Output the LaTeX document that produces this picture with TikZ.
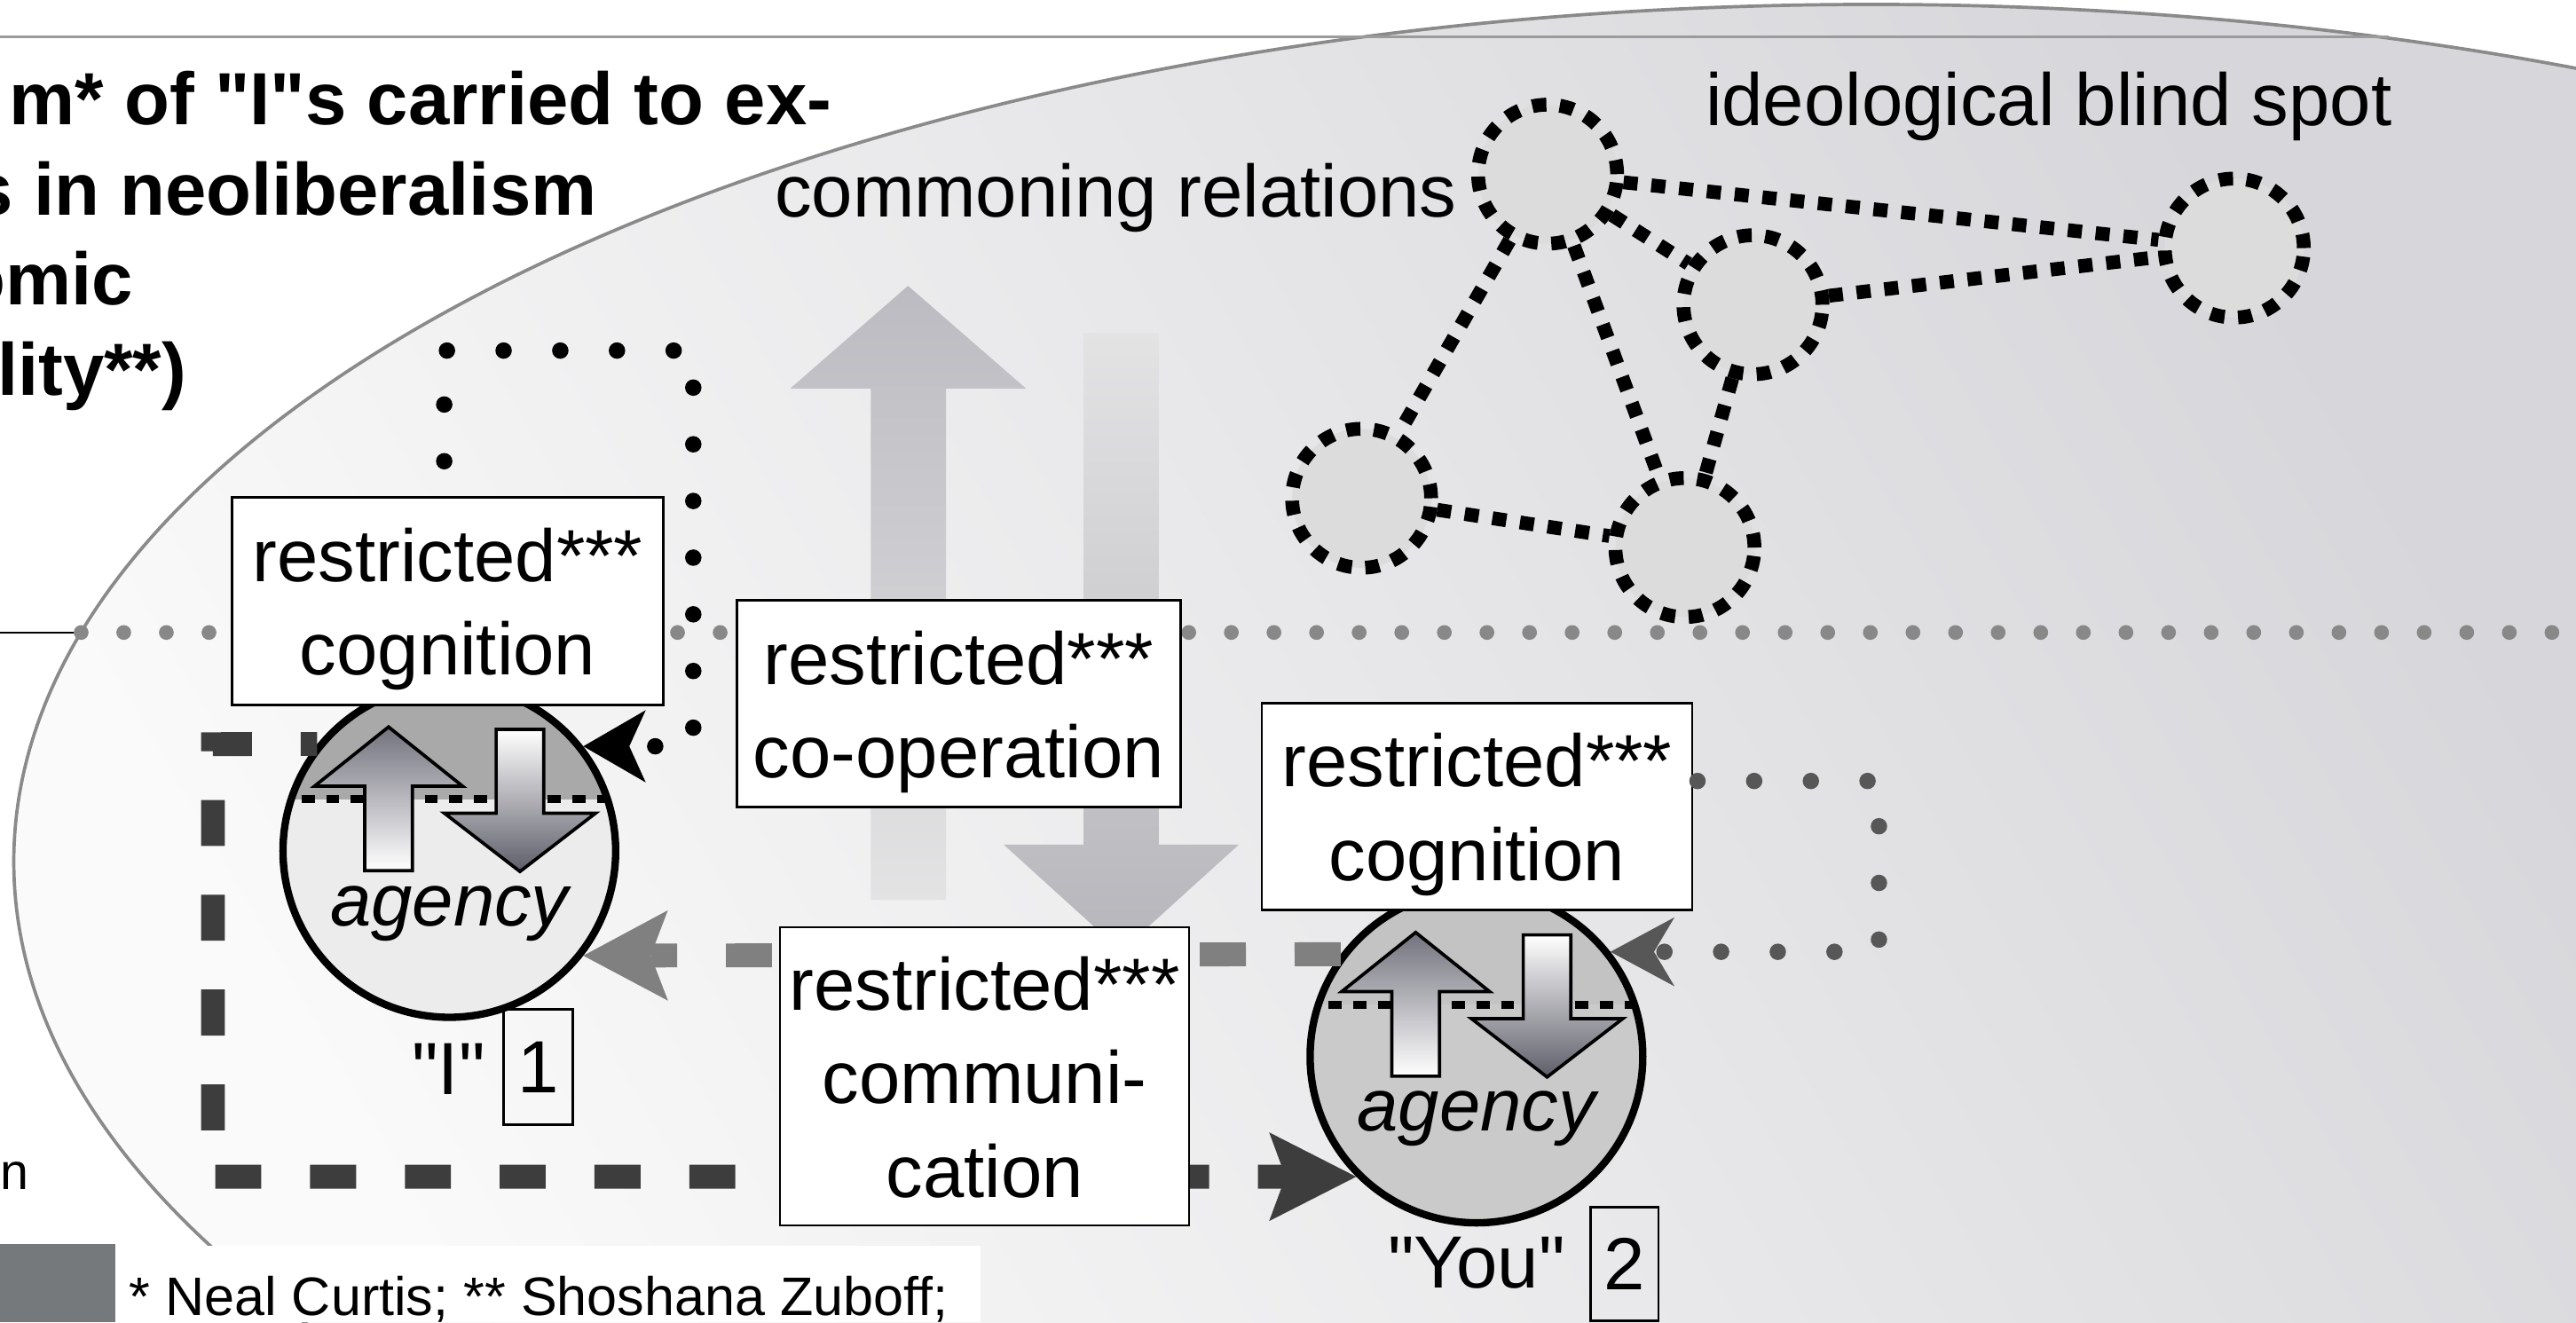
\documentclass[tikz,border=0pt]{standalone}
\usepackage{fontspec}
\setmainfont{Liberation Sans}[Ligatures=TeXOff]
\usetikzlibrary{arrows.meta,calc}

\definecolor{bglight}{HTML}{FAFAFA}
\definecolor{bgdark}{HTML}{D7D7DB}
\definecolor{rimgray}{HTML}{8A8A8A}
\definecolor{rulegray}{HTML}{9B9B9B}
\definecolor{dotgray}{HTML}{888888}
\definecolor{loopgray}{HTML}{575757}
\definecolor{dashdark}{HTML}{3D3D3D}
\definecolor{dashmid}{HTML}{808080}
\definecolor{flowdark}{HTML}{BBBBC1}
\definecolor{flowpale}{HTML}{E3E3E4}
\definecolor{agentdark}{HTML}{A9A9A9}
\definecolor{agentpale}{HTML}{ECECEC}
\definecolor{agentmidA}{HTML}{C3C3C3}
\definecolor{agentmidB}{HTML}{CACACA}
\definecolor{arrowdark}{HTML}{72727E}
\definecolor{arrowdarker}{HTML}{5E5E6A}
\definecolor{netfill}{HTML}{DCDCDD}
\definecolor{footgray}{HTML}{76797B}

% struts fixing the first ascent and last descent of boxed texts
\newcommand{\firstline}{\rule{0pt}{45pt}}
\newcommand{\lastline}{\rule[-12pt]{0pt}{12pt}}

\tikzset{
  txt/.style={inner sep=0pt, font=\fontsize{45}{57}\selectfont},
  textbox/.style={draw=black, fill=white, line width=1.5pt, inner sep=0pt,
    align=center, font=\fontsize{45}{57}\selectfont},
  numbox/.style={draw=black, line width=1.5pt, inner sep=0pt,
    font=\fontsize{45}{57}\selectfont},
  headline/.style={inner sep=0pt, anchor=base east,
    font=\fontsize{45}{55}\selectfont\bfseries},
  agentring/.style={circle, draw=black, line width=4.5pt,
    minimum size=202.5pt, inner sep=0pt},
  agencytext/.style={inner sep=0pt, anchor=base,
    font=\fontsize{45}{57}\selectfont\itshape},
  netnode/.style={circle, draw=black, fill=netfill, line width=8.4pt,
    minimum size=84.6pt, inner sep=0pt, dash pattern=on 8.6pt off 8.2pt},
  netedge/.style={draw=black, line width=8.4pt, dash pattern=on 8.6pt off 8.4pt},
  greydots/.style={dotgray, line width=9pt, line cap=round,
    dash pattern=on 0pt off 25.93pt},
  loopdots/.style={line width=10pt, line cap=round,
    dash pattern=on 0pt off 34.5pt},
  heavydash/.style={line width=14.5pt, dash pattern=on 28pt off 29.7pt},
  smallup/.style={draw=black, line width=2pt, line join=miter,
    top color=arrowdark, bottom color=white},
  smalldown/.style={draw=black, line width=2pt, line join=miter,
    top color=white, bottom color=arrowdarker},
  tipdot/.tip={Stealth[length=38pt, width=44pt, inset=10pt, line width=0pt]},
  tipgray/.tip={Stealth[length=39pt, width=42pt, inset=12.5pt, line width=0pt]},
  tipheavy/.tip={Stealth[length=53pt, width=54pt, inset=10pt, line width=0pt]},
  tipmid/.tip={Stealth[length=51.5pt, width=55pt, inset=10.5pt, line width=0pt]},
}

% one agent: two-tone disc, the two exchange arrows and the ring
\newcommand{\agentdisc}[4]{%
  \fill[#4] (#2) circle[radius=101.25];
  \begin{scope}
    \clip (#2) circle[radius=101.25];
    \fill[#3] ($(#2)+(-110,-110)$) rectangle ($(#2)+(110,-31.5)$);
    \draw[black, line width=5pt, dash pattern=on 8pt off 7pt]
      ($(#2)+(-105,-31.5)$) -- ($(#2)+(105,-31.5)$);
  \end{scope}
  \begin{scope}[shift={(#2)}]
    \shadedraw[smallup] (-51.5,12) -- (-51.5,-39.5) -- (-82,-39.5) -- (-37,-75.5)
      -- (8,-39.5) -- (-22.5,-39.5) -- (-22.5,12) -- cycle;
    \shadedraw[smalldown] (28.5,-74) -- (57.5,-74) -- (57.5,-23) -- (89,-23)
      -- (43,12.5) -- (-3,-23) -- (28.5,-23) -- cycle;
  \end{scope}
  \node[agentring] (#1) at (#2) {};
  \node[agencytext] (#1-agency) at ($(#2)+(0,45.5)$) {agency};
}

\begin{document}
\begin{tikzpicture}[x=1pt, y=-1pt]
\useasboundingbox (0,0) rectangle (1568,805);
\clip (0,0) rectangle (1568,805);
\fill[white] (0,0) rectangle (1568,805);

% the large shaded oval
\coordinate (ovc) at (1139,524.5);
\begin{scope}
  \clip (ovc) ellipse[x radius=1130.6, y radius=521.8];
  \shade[top color=bgdark, bottom color=bglight, shading angle=-60]
    (0,0) rectangle (1568,805);
\end{scope}
\draw[rimgray, line width=2pt] (ovc) ellipse[x radius=1130.6, y radius=521.8];

% top rule
\coordinate (ruleL) at (0,22.5);
\coordinate (ruleR) at (1454,22.5);
\draw[rulegray, line width=1.5pt] (ruleL) -- (ruleR);

% horizon line
\coordinate (hzA) at (0,385);
\coordinate (hzB) at (49.4,385);
\coordinate (hzC) at (1580,385);
\draw[black, line width=1pt] (hzA) -- (hzB);
\draw[greydots] (hzB) -- (hzC);

% broad up and down flows
\shade[top color=flowdark, bottom color=flowpale]
  (530,547.7) -- (530,236.5) -- (481,236.5) -- (552.7,174) -- (624.5,236.5)
  -- (575.8,236.5) -- (575.8,547.7) -- cycle;
\shade[top color=flowpale, bottom color=flowdark!97!black]
  (659.5,202.8) -- (705.4,202.8) -- (705.4,514.2) -- (754,514.2) -- (682.5,579)
  -- (611,514.2) -- (659.5,514.2) -- cycle;

% network of commoning relations
\node[netnode] (nA) at (942,106) {};
\node[netnode] (nB) at (1067,185.5) {};
\node[netnode] (nC) at (1360,151) {};
\node[netnode] (nD) at (828.8,303.3) {};
\node[netnode] (nE) at (1025.6,333.3) {};
\draw[netedge] (nA) -- (nC);
\draw[netedge] (nB) -- (nC);
\draw[netedge] (nA) -- (nB);
\draw[netedge] (nA) -- (nD);
\draw[netedge] (nA) -- (nE);
\draw[netedge] (nB) -- (nE);
\draw[netedge] (nD) -- (nE);
\node[txt, anchor=base east] (commoning) at (887,132) {commoning relations};
\node[txt, anchor=base west] (blindspot) at (1038,76.5) {ideological blind spot};

% the two agents
\coordinate (Ic) at (273.5,518);
\coordinate (Yc) at (898.7,643.1);
\agentdisc{I}{Ic}{agentdark}{agentpale}
\agentdisc{You}{Yc}{agentmidA}{agentmidB}

% restricted communication, "I" to "You"
\coordinate (dk1) at (129.6,453);
\draw[heavydash, dashdark, dash phase=18pt, -{tipheavy}]
  (I.141.1) -- (dk1) -- (dk1 |- You.225.2) -- (You.225.2);
% and back, "You" to "I"
\draw[heavydash, dashmid, -{tipmid}] (You.143.8) -- (I.-38.2);

% corners of the cognition loops
\coordinate (lp1) at (270.4,213.4);
\coordinate (lp2) at (422,213.4);
\coordinate (lq1) at (1143.7,475.4);

% boxes
\node[textbox, minimum width=262.5pt, minimum height=126.4pt] (cog1)
  at (272.5,366) {\firstline restricted***\\cognition\lastline};
\node[textbox, minimum width=270pt, minimum height=125.8pt] (coop)
  at (583.5,428.5) {\firstline restricted***\\co-operation\lastline};
\node[textbox, minimum width=262pt, minimum height=126pt] (cog2)
  at (899,491) {\firstline restricted***\\cognition\lastline};
\node[textbox, minimum width=249pt, minimum height=181.5pt] (comm)
  at (599.3,655.2) {\firstline restricted***\\communi-\\cation\lastline};

\draw[loopdots, black, dash phase=13.2pt, -{tipdot}]
  (cog1.north -| lp1) -- (lp1) -- (lp2) -- (lp2 |- I.38.9) -- (I.38.9);
\draw[loopdots, loopgray, dash phase=32pt, -{tipgray}]
  (cog2.east |- lq1) -- (lq1) -- (lq1 |- You.38.3) -- (You.38.3);

% agent labels
\node[txt, anchor=base] (Iname) at (273,666) {"I"};
\node[numbox, minimum width=42pt, minimum height=70pt] (Inum) at (327.6,649.5) {1};
\node[txt, anchor=base] (Yname) at (898.7,784) {"You"};
\node[numbox, minimum width=41.5pt, minimum height=69pt] (Ynum) at (988.8,769.5) {2};

% heading
\node[headline] (head1) at (506.4,76) {m* of "I"s carried to ex-};
\node[headline] (head2) at (363.4,130.8) {s in neoliberalism};
\node[headline] (head3) at (81,185.6) {omic};
\node[headline] (head4) at (113.7,240.4) {lity**)};

% left margin fragment
\node[inner sep=0pt, anchor=base east, font=\fontsize{31}{37}\selectfont]
  (leftn) at (17.5,724) {n};

% footnote strip
\coordinate (fgA) at (0,757);
\coordinate (fgB) at (70,805);
\fill[footgray] (fgA) rectangle (fgB);
\coordinate (fwA) at (70,758.5);
\coordinate (fwB) at (597,805);
\fill[white] (fwA) rectangle (fwB);
\node[inner sep=0pt, anchor=base west, font=\fontsize{33}{40}\selectfont]
  (foot) at (78.5,801) {* Neal Curtis; ** Shoshana Zuboff;};
\end{tikzpicture}
\end{document}
